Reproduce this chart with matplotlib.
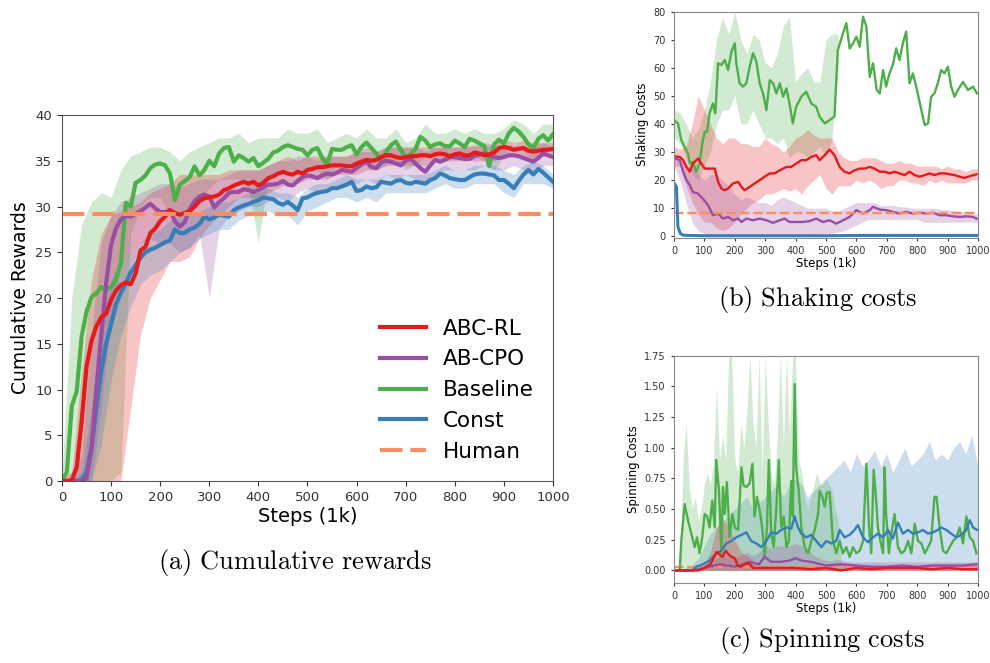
import numpy as np
import matplotlib
matplotlib.use("Agg")
import matplotlib.pyplot as plt

plt.rcParams['mathtext.fontset'] = 'cm'

# ---- colours (Set1-like) ----
C_ABC = '#e41a1c'
C_CPO = '#984ea3'
C_BASE = '#4daf4a'
C_CONST = '#377eb8'
C_HUMAN = '#fc8d62'

# ---- (a) cumulative rewards, one value every 10k steps ----
reward_steps = np.arange(0, 1001, 10)
reward_abc_rl = [
    0, 0, 0.1, 1.5, 6.5, 12.5, 15.3, 16.9, 17.9, 18.3,
    19.8, 20.8, 21.4, 21.7, 21.5, 22.7, 25.2, 25.6, 27.1, 27.6,
    28.4, 28.9, 29.6, 29.3, 29.1, 29.3, 29.5, 30.0, 30.6, 30.9,
    31.0, 31.1, 31.3, 31.8, 32.0, 32.3, 32.5, 32.7, 32.5, 32.7,
    32.3, 32.6, 33.1, 33.3, 33.6, 33.8, 33.6, 33.5, 33.8, 33.6,
    34.0, 34.1, 34.3, 34.3, 34.4, 34.5, 34.5, 34.5, 34.4, 34.4,
    34.7, 34.9, 35.1, 35.0, 35.1, 35.4, 35.6, 35.6, 35.4, 35.3,
    35.4, 35.5, 35.5, 35.6, 35.6, 35.5, 35.7, 35.8, 35.7, 35.5,
    35.7, 35.8, 35.6, 35.6, 35.9, 35.8, 35.6, 35.7, 35.9, 36.4,
    36.5, 36.4, 36.2, 36.3, 36.4, 36.1, 36.0, 36.1, 36.2, 36.2,
    36.3]
reward_ab_cpo = [
    0, 0, 0, 0, 0, 0.3, 3.5, 10.0, 16.0, 21.6,
    25.8, 27.6, 28.6, 29.0, 28.9, 29.2, 29.5, 29.9, 30.3, 29.8,
    29.4, 29.4, 29.6, 28.4, 27.8, 28.3, 29.7, 30.6, 31.1, 31.3,
    31.1, 29.9, 30.5, 30.9, 31.5, 31.6, 31.6, 31.9, 31.8, 31.6,
    31.8, 32.1, 32.4, 32.4, 32.5, 32.8, 32.4, 32.3, 32.8, 33.2,
    33.4, 33.3, 33.1, 33.4, 33.6, 33.5, 33.7, 34.0, 33.9, 33.8,
    34.2, 34.6, 34.9, 34.3, 34.2, 34.8, 35.0, 34.9, 34.7, 34.5,
    35.0, 35.2, 34.7, 34.2, 33.8, 34.5, 35.1, 34.9, 35.1, 35.4,
    35.4, 35.3, 35.2, 35.2, 35.5, 35.7, 35.8, 35.6, 35.4, 35.3,
    35.4, 35.6, 35.6, 35.5, 35.3, 35.1, 34.9, 35.3, 35.8, 35.6,
    35.4]
reward_baseline = [
    0, 1.0, 8.2, 9.8, 15.8, 18.5, 20.1, 20.5, 21.2, 20.9,
    21.2, 22.0, 23.8, 30.4, 30.0, 32.6, 32.9, 33.4, 34.2, 34.6,
    34.7, 34.5, 33.6, 30.7, 32.4, 32.8, 33.2, 34.4, 33.4, 34.0,
    35.0, 34.4, 35.8, 36.4, 36.5, 34.9, 35.6, 35.3, 34.9, 35.3,
    34.4, 34.8, 35.2, 35.9, 36.1, 36.5, 36.7, 36.5, 36.3, 36.2,
    35.6, 36.2, 36.4, 35.3, 34.6, 36.3, 36.2, 36.2, 36.5, 36.7,
    35.7, 36.5, 37.0, 36.4, 35.8, 34.8, 36.0, 36.7, 37.1, 36.2,
    35.3, 35.7, 36.3, 37.6, 37.2, 36.5, 36.8, 36.9, 36.6, 36.6,
    37.2, 36.9, 36.5, 37.4, 37.2, 36.9, 36.6, 34.4, 36.8, 37.3,
    36.9, 38.0, 38.6, 38.2, 37.6, 36.8, 36.4, 37.4, 37.8, 37.2,
    37.9]
reward_const = [
    0, 0, 0, 0, 0.1, 1.0, 3.6, 7.9, 12.0, 15.0,
    17.1, 19.3, 20.6, 21.6, 22.8, 23.6, 24.4, 25.0, 25.3, 25.5,
    25.8, 26.1, 26.3, 27.5, 27.1, 27.1, 27.5, 27.7, 28.1, 28.9,
    28.6, 28.8, 29.1, 29.0, 28.9, 29.6, 29.9, 30.1, 30.3, 30.5,
    30.7, 31.0, 30.9, 30.8, 30.4, 30.2, 30.5, 30.1, 29.6, 30.9,
    31.0, 31.3, 31.5, 31.6, 31.7, 32.0, 32.0, 32.2, 32.4, 32.7,
    31.7, 31.8, 32.2, 32.0, 32.1, 32.7, 32.6, 32.5, 32.8, 32.9,
    32.6, 32.5, 32.7, 32.6, 32.5, 32.9, 33.1, 33.6, 33.4, 33.1,
    33.0, 32.9, 32.9, 33.2, 33.5, 33.6, 33.6, 33.5, 33.4, 32.9,
    32.9, 32.5, 32.0, 32.8, 33.5, 34.0, 33.5, 34.1, 33.7, 33.2,
    32.7]
reward_human = 29.2

# shaded bands, one pair every 20k steps
band_steps = np.arange(0, 1001, 20)
reward_abc_rl_lo = [
    0, 0, 0, 0, 0, 0, 0, 8, 16, 20,
    22, 24, 24, 24.5, 26.5, 28, 29, 30, 31, 31,
    31, 31.5, 32, 32.5, 32.5, 33, 33, 33, 33.5, 33.5,
    33.5, 34, 34, 34.5, 34.5, 34.5, 34.5, 34.5, 35, 35,
    35, 35, 35, 35, 35, 35.5, 35.5, 35.5, 35, 35.5,
    35.5]
reward_abc_rl_hi = [
    0.5, 1, 12, 22, 27, 29, 29.5, 30, 30.5, 31.5,
    32, 32.5, 33.5, 33.5, 33.5, 33.5, 33.5, 34, 34, 34,
    34, 34.5, 35, 35.5, 35, 35.5, 35.5, 35.5, 35.5, 35.5,
    36, 36, 36, 36.5, 36.5, 36.5, 36.5, 36.5, 36.5, 36.5,
    36.5, 36.5, 36.8, 36.5, 36.8, 37.3, 37, 37.2, 37, 37,
    37]
reward_ab_cpo_lo = [
    0, 0, 0, 0, 8, 18, 24, 25, 26, 26.5,
    26, 26, 25, 25.5, 27, 20, 27.5, 29, 29.5, 30,
    30, 30.5, 31, 30.5, 31.5, 32, 31.5, 32, 32, 32.5,
    32.5, 33, 32.5, 33.5, 33, 33.5, 33, 32.5, 33.5, 34,
    34, 34, 34, 34.5, 34, 34, 34.5, 34, 33.5, 34.5,
    34.5]
reward_ab_cpo_hi = [
    0, 0.5, 3, 16, 26, 29, 30.5, 31, 31.5, 32,
    32.5, 32.5, 32, 32.5, 33, 33, 33, 33.5, 34, 34,
    34, 34.5, 35, 35, 35.5, 35.5, 35, 35.5, 35.5, 35.5,
    36, 36.5, 36, 36.5, 36.5, 36.5, 36.5, 36, 36.5, 36.5,
    36.5, 36.5, 36.5, 37, 36.8, 36.5, 36.8, 36.5, 36.5, 37,
    36.5]
reward_baseline_lo = [
    0, 0, 0, 0, 0, 0, 1, 27, 30, 31,
    31, 29, 29, 30, 31, 32, 33, 33, 33, 32,
    26, 33, 34, 34, 34, 34, 34, 33, 34.5, 34.5,
    34, 35, 34, 34.5, 35, 34, 34.5, 35.5, 35.5, 35,
    35.5, 35, 35.5, 35, 34, 35.5, 37, 36, 35, 36,
    36.5]
reward_baseline_hi = [
    0.5, 20, 28, 30.5, 31.5, 31, 34, 35.5, 36, 36.5,
    36.5, 36, 35, 36, 36.5, 37, 37.5, 37.5, 38, 37,
    37.5, 37.5, 37.5, 38.5, 38, 38, 38.5, 37, 37.5, 38,
    37.5, 38.5, 37.5, 37.5, 38.5, 37, 37.5, 39, 38, 38,
    38.5, 38, 38.5, 38, 38, 38.5, 39.5, 39, 38, 39,
    39]
reward_const_lo = [
    0, 0, 0, 0, 4, 11, 16, 19, 21.5, 22.5,
    23, 24, 25, 25.5, 26.5, 27, 27.5, 27.5, 28.5, 29,
    29, 29.5, 29, 29, 28, 29.5, 30, 30.5, 31, 31,
    30.5, 31, 30.5, 31.5, 31.5, 31.5, 31.5, 31.5, 32, 32.5,
    32, 32, 32.5, 32.5, 32.5, 31.5, 31, 32.5, 32.5, 32.5,
    32]
reward_const_hi = [
    0.2, 0.3, 1, 8, 17, 22, 24, 25, 26, 27,
    27.5, 28.5, 29, 29, 29.5, 30, 30.5, 30.5, 31, 31.5,
    31.5, 32, 31.5, 31.5, 31, 32, 32.5, 32.5, 33, 33.5,
    33, 33, 33, 33.5, 33.5, 33.5, 33.5, 33.5, 34, 34.5,
    34, 34, 34.5, 34.5, 34.5, 34, 33.5, 34.5, 35, 34.5,
    33.5]

# ---- (b) shaking costs ----
shake_abc_rl_steps = [0, 19, 30, 41, 52, 62, 79, 90, 101, 117,
                      134, 145, 156, 167, 178, 194, 211, 222, 232, 249,
                      265, 282, 298, 315, 331, 348, 370, 386, 402, 419,
                      435, 452, 468, 479, 496, 512, 528, 545, 561, 578,
                      594, 611, 627, 644, 660, 677, 693, 709, 726, 742,
                      759, 775, 792, 808, 825, 841, 857, 874, 890, 907,
                      923, 940, 956, 973, 995]
shake_abc_rl = [28.3, 28.3, 27.1, 24.7, 23.0, 25.9, 27.7, 25.9, 24.1, 24.1,
                24.1, 19.4, 17.0, 16.4, 17.0, 18.8, 19.4, 17.6, 16.4, 17.6,
                18.8, 20.0, 21.2, 22.4, 22.4, 23.5, 24.7, 24.7, 25.9, 27.1,
                27.1, 28.3, 28.9, 27.1, 28.9, 30.9, 28.9, 24.7, 23.0, 22.4,
                23.5, 24.1, 24.1, 24.7, 24.1, 23.0, 23.0, 22.4, 23.0, 22.4,
                21.8, 23.0, 21.8, 21.2, 21.8, 22.4, 21.8, 22.4, 22.4, 22.1,
                21.8, 21.2, 20.8, 21.4, 22.1]
shake_ab_cpo_steps = [0, 19, 30, 41, 52, 62, 79, 95, 112, 128,
                      145, 161, 178, 194, 211, 222, 238, 260, 282, 304,
                      326, 348, 364, 380, 402, 424, 446, 468, 490, 512,
                      534, 556, 578, 600, 622, 644, 655, 677, 698, 720,
                      742, 764, 786, 808, 830, 852, 874, 896, 918, 940,
                      962, 984, 995]
shake_ab_cpo = [28.0, 27.1, 23.0, 20.0, 18.2, 15.8, 15.2, 13.4, 11.1, 7.5,
                8.1, 6.3, 6.9, 5.7, 6.3, 5.1, 6.3, 5.7, 6.3, 5.7,
                4.8, 5.7, 6.3, 5.1, 5.1, 5.1, 5.4, 6.3, 5.1, 5.7,
                4.5, 5.7, 6.9, 9.3, 8.1, 9.3, 10.5, 9.5, 9.3, 8.7,
                8.1, 8.7, 8.1, 8.4, 8.1, 8.4, 7.5, 7.5, 7.1, 6.9,
                7.1, 6.9, 6.3]
shake_baseline_steps = [0, 13, 24, 35, 46, 52, 62, 73, 84, 93,
                        101, 109, 117, 128, 136, 145, 156, 167, 178, 189,
                        200, 205, 216, 227, 238, 249, 260, 271, 282, 293,
                        304, 315, 326, 337, 348, 359, 370, 380, 391, 402,
                        419, 435, 452, 468, 479, 496, 512, 528, 539, 556,
                        567, 578, 589, 600, 611, 622, 633, 644, 655, 667,
                        677, 688, 698, 709, 720, 731, 742, 753, 764, 775,
                        786, 797, 814, 825, 836, 846, 857, 868, 879, 890,
                        901, 912, 923, 934, 951, 967, 984, 997]
shake_baseline = [41.4, 40.2, 34.2, 31.9, 29.5, 25.9, 26.5, 23.0, 25.9, 33.0,
                  37.2, 37.2, 43.8, 47.3, 43.8, 61.6, 61.0, 62.8, 59.2, 65.8,
                  68.7, 61.6, 54.5, 53.3, 54.5, 60.4, 65.2, 62.2, 54.5, 50.9,
                  44.9, 55.6, 54.5, 50.9, 54.5, 49.7, 52.7, 47.3, 40.2, 46.1,
                  49.7, 51.5, 47.3, 46.1, 42.6, 40.2, 41.4, 42.6, 66.3, 72.3,
                  75.9, 66.9, 68.7, 71.1, 67.5, 78.2, 74.7, 56.8, 61.6, 52.1,
                  50.9, 59.2, 53.3, 58.0, 61.0, 66.9, 62.8, 68.7, 72.9, 54.5,
                  58.0, 53.3, 44.9, 39.6, 40.2, 49.7, 50.9, 54.5, 59.2, 58.0,
                  60.4, 53.3, 49.7, 52.1, 55.0, 52.1, 53.3, 50.9]
shake_const_steps = [0, 8, 13, 21, 30, 50, 100, 200, 300, 400, 500, 600, 700, 800, 900, 995]
shake_const = [19.0, 17.6, 3.3, 1.0, 0.4, 0.3, 0.2, 0.2, 0.2, 0.2, 0.2, 0.3, 0.3, 0.3, 0.3, 0.3]
shake_human = 8.4

shake_abc_rl_lo = [25, 25, 18, 12, 8, 5, 5, 3, 2, 3,
                   5, 8, 10, 12, 13, 15, 15, 16, 17, 16,
                   17, 15, 18, 20, 22, 17, 15, 18, 18, 18,
                   20, 19, 20, 19, 17, 18, 18, 20, 20, 19,
                   19, 18, 20, 19, 20, 19, 19, 19, 19, 20,
                   20]
shake_abc_rl_hi = [32, 31, 32, 40, 50, 45, 40, 35, 33, 35,
                   35, 33, 33, 32, 32, 35, 33, 32, 30, 32,
                   35, 36, 38, 36, 35, 35, 35, 30, 28, 27,
                   27, 28, 28, 28, 27, 26, 26, 27, 26, 26,
                   25, 25, 25, 25, 24, 25, 24, 24, 23, 24,
                   24]
shake_ab_cpo_lo = [25, 20, 12, 5, 2, 1, 0.5, 0.5, 0.5, 0.5,
                   0.5, 0.5, 0.5, 0.5, 0.5, 0.5, 0.5, 0.5, 0.5, 0.5,
                   0.5, 0.5, 0.5, 1, 1, 1, 1, 1.5, 2, 3,
                   4, 5, 6, 6, 6, 6, 6, 6, 6, 6,
                   6, 5, 5, 5, 5, 5, 5, 5, 5, 5,
                   5]
shake_ab_cpo_hi = [30, 28, 25, 25, 22, 20, 22, 22, 20, 18,
                   15, 13, 14, 13, 12, 12, 11, 13, 14, 13,
                   12, 11, 10, 10, 10, 10, 9, 9, 10, 11,
                   12, 12, 12, 12, 11, 11, 11, 10.5, 10.5, 10,
                   10, 10, 10, 10, 9.5, 9.5, 9, 9, 8.5, 8,
                   8]
shake_band_base_steps = np.arange(0, 541, 20)
shake_baseline_lo = [35, 33, 28, 22, 20, 25, 30, 40, 45, 45,
                     50, 40, 40, 45, 40, 35, 35, 33, 35, 28,
                     30, 30, 28, 30, 32, 28, 35, 60]
shake_baseline_hi = [45, 44, 40, 35, 38, 45, 55, 70, 78, 72,
                     80, 70, 65, 72, 70, 62, 60, 65, 75, 78,
                     55, 58, 60, 55, 55, 70, 72, 72]

# ---- (c) spinning costs ----
spin_abc_rl_steps = [0, 80, 100, 120, 140, 150, 160, 170, 180, 190,
                     200, 210, 220, 240, 250, 260, 300, 350, 400, 450,
                     500, 550, 600, 650, 700, 750, 800, 850, 900, 950, 995]
spin_abc_rl = [0.0, 0.0, 0.02, 0.05, 0.15, 0.13, 0.11, 0.16, 0.13, 0.11,
               0.10, 0.04, 0.03, 0.06, 0.05, 0.02, 0.02, 0.02, 0.02, 0.01,
               0.02, 0.00, 0.02, 0.01, 0.02, 0.02, 0.02, 0.01, 0.02, 0.01, 0.01]
spin_ab_cpo_steps = [0, 60, 100, 150, 200, 250, 280, 298, 320, 350,
                     380, 400, 420, 450, 500, 550, 600, 650, 700, 750,
                     800, 850, 900, 950, 995]
spin_ab_cpo = [0.0, 0.0, 0.02, 0.05, 0.03, 0.07, 0.05, 0.11, 0.07, 0.07,
               0.08, 0.10, 0.08, 0.07, 0.04, 0.05, 0.04, 0.03, 0.03, 0.04,
               0.03, 0.04, 0.04, 0.04, 0.05]
spin_baseline_steps = [0, 19, 24, 35, 46, 57, 68, 76, 84, 93,
                       101, 109, 117, 126, 134, 139, 148, 156, 161, 167,
                       174, 183, 192, 200, 211, 222, 229, 238, 249, 258,
                       265, 273, 282, 291, 298, 306, 312, 320, 328, 337,
                       345, 353, 361, 370, 378, 386, 391, 397, 402, 411,
                       419, 430, 441, 452, 463, 474, 479, 488, 496, 503,
                       512, 523, 534, 545, 556, 567, 578, 589, 600, 611,
                       622, 633, 642, 649, 657, 663, 671, 679, 688, 693,
                       698, 707, 715, 726, 737, 748, 759, 770, 781, 792,
                       803, 814, 825, 836, 846, 857, 864, 874, 885, 896,
                       907, 918, 929, 940, 951, 962, 973, 984, 995]
spin_baseline = [0.0, 0.0, 0.24, 0.54, 0.41, 0.30, 0.19, 0.27, 0.14, 0.27,
                 0.46, 0.44, 0.35, 0.57, 0.35, 0.90, 0.65, 0.14, 0.68, 0.46,
                 0.72, 0.27, 0.46, 0.35, 0.33, 0.84, 0.69, 0.68, 0.71, 0.87,
                 0.44, 0.60, 0.49, 0.33, 0.11, 0.35, 0.90, 0.30, 0.19, 0.52,
                 0.90, 0.35, 0.44, 0.19, 0.24, 0.73, 0.44, 1.52, 0.84, 0.63,
                 0.35, 0.19, 0.14, 0.24, 0.33, 0.46, 0.65, 0.60, 0.52, 0.63,
                 0.64, 0.24, 0.14, 0.24, 0.14, 0.19, 0.11, 0.19, 0.14, 0.16,
                 0.24, 0.87, 0.35, 0.14, 0.82, 0.65, 0.35, 0.24, 0.14, 0.84,
                 0.46, 0.14, 0.30, 0.46, 0.19, 0.14, 0.16, 0.24, 0.14, 0.38,
                 0.24, 0.22, 0.14, 0.19, 0.24, 0.60, 0.60, 0.35, 0.16, 0.14,
                 0.19, 0.24, 0.27, 0.35, 0.22, 0.44, 0.27, 0.24, 0.14]
spin_const_steps = [0, 60, 73, 95, 117, 139, 156, 172, 189, 205,
                    222, 238, 254, 271, 287, 304, 320, 337, 353, 370,
                    386, 397, 408, 419, 435, 452, 468, 485, 501, 518,
                    534, 545, 561, 578, 594, 605, 622, 638, 655, 671,
                    688, 704, 720, 737, 753, 770, 786, 803, 819, 836,
                    852, 868, 879, 896, 912, 929, 945, 962, 973, 984, 997]
spin_const = [0.0, 0.0, 0.03, 0.05, 0.08, 0.14, 0.16, 0.22, 0.24, 0.27,
              0.29, 0.31, 0.24, 0.22, 0.19, 0.24, 0.31, 0.30, 0.33, 0.35,
              0.34, 0.44, 0.35, 0.30, 0.27, 0.29, 0.24, 0.19, 0.24, 0.22,
              0.24, 0.33, 0.27, 0.29, 0.33, 0.37, 0.27, 0.23, 0.27, 0.30,
              0.27, 0.33, 0.26, 0.39, 0.30, 0.33, 0.30, 0.31, 0.33, 0.30,
              0.31, 0.33, 0.35, 0.33, 0.30, 0.27, 0.29, 0.33, 0.41, 0.35, 0.33]
spin_human = 0.03

spin_band_base_steps = np.arange(0, 551, 10)
spin_baseline_hi = [0.0, 0.0, 0.1, 0.9, 1.2, 0.7, 0.5, 0.6, 0.4, 0.5,
                    0.7, 0.8, 0.7, 0.9, 1.5, 0.9, 1.1, 0.9, 1.75, 1.75,
                    0.9, 0.8, 1.2, 1.0, 1.3, 1.75, 1.2, 1.0, 1.75, 0.8,
                    1.75, 1.2, 0.8, 0.7, 1.1, 1.75, 1.0, 1.75, 1.1, 1.75,
                    1.75, 0.9, 0.8, 0.6, 0.5, 0.6, 0.7, 0.8, 0.7, 0.7,
                    0.75, 0.7, 0.65, 0.5, 0.4, 0.2]
spin_const_hi = [0, 0, 0.02, 0.05, 0.1, 0.2, 0.3, 0.35, 0.4, 0.45,
                 0.5, 0.55, 0.6, 0.5, 0.55, 0.6, 0.65, 0.7, 0.6, 0.7,
                 0.75, 0.7, 0.6, 0.65, 0.7, 0.75, 0.8, 0.85, 0.9, 0.8,
                 0.95, 0.85, 0.9, 0.98, 0.85, 0.95, 0.8, 0.9, 1.0, 0.85,
                 0.9, 0.95, 1.05, 0.9, 0.95, 0.9, 1.0, 1.05, 0.95, 1.1,
                 0.85]
spin_ab_cpo_hi = [0, 0, 0, 0.01, 0.03, 0.05, 0.08, 0.1, 0.12, 0.12,
                  0.1, 0.12, 0.15, 0.12, 0.15, 0.2, 0.18, 0.2, 0.2, 0.2,
                  0.22, 0.2, 0.18, 0.12, 0.1, 0.08, 0.08, 0.09, 0.08, 0.07,
                  0.07, 0.07, 0.07, 0.07, 0.07, 0.07, 0.07, 0.07, 0.07, 0.07,
                  0.07, 0.07, 0.07, 0.07, 0.07, 0.07, 0.07, 0.07, 0.07, 0.07,
                  0.07]
spin_abc_rl_hi = [0, 0, 0, 0, 0.02, 0.05, 0.15, 0.35, 0.42, 0.35,
                  0.25, 0.15, 0.12, 0.08, 0.05, 0.04, 0.04, 0.04, 0.04, 0.04,
                  0.04, 0.04, 0.04, 0.04, 0.04, 0.04, 0.04, 0.04, 0.04, 0.04,
                  0.04, 0.04, 0.04, 0.04, 0.04, 0.04, 0.04, 0.04, 0.04, 0.04,
                  0.04, 0.04, 0.04, 0.04, 0.04, 0.04, 0.04, 0.04, 0.04, 0.04,
                  0.04]


def style_axes(ax, spine_color, tick_size):
    for sp in ax.spines.values():
        sp.set_color(spine_color)
    ax.tick_params(colors='#333333', labelsize=tick_size, length=3.5, width=0.8)


fig = plt.figure(figsize=(9.9, 6.63), dpi=100)

# ================= (a) =================
ax = fig.add_axes([0.0626, 0.2745, 0.496, 0.552])
band_alpha = 0.25
ax.fill_between(band_steps, reward_baseline_lo, reward_baseline_hi, color=C_BASE, alpha=band_alpha, lw=0)
ax.fill_between(band_steps, reward_abc_rl_lo, reward_abc_rl_hi, color=C_ABC, alpha=band_alpha, lw=0)
ax.fill_between(band_steps, reward_ab_cpo_lo, reward_ab_cpo_hi, color=C_CPO, alpha=band_alpha, lw=0)
ax.fill_between(band_steps, reward_const_lo, reward_const_hi, color=C_CONST, alpha=band_alpha, lw=0)
lw_a = 3.0
ax.plot(reward_steps, reward_baseline, color=C_BASE, lw=lw_a, label='Baseline')
ax.plot(reward_steps, reward_const, color=C_CONST, lw=lw_a, label='Const')
ax.plot(reward_steps, reward_ab_cpo, color=C_CPO, lw=lw_a, label='AB-CPO')
ax.plot(reward_steps, reward_abc_rl, color=C_ABC, lw=lw_a, label='ABC-RL')
ax.plot([0, 1000], [reward_human, reward_human], color=C_HUMAN, lw=lw_a,
        dashes=(5.4, 1.9), label='Human')
ax.set_xlim(0, 1000)
ax.set_ylim(0, 40)
ax.set_xticks(np.arange(0, 1001, 100))
ax.set_yticks(np.arange(0, 41, 5))
ax.set_xlabel('Steps (1k)', fontsize=14, labelpad=2)
ax.set_ylabel('Cumulative Rewards', fontsize=13.5, labelpad=4)
style_axes(ax, '#555555', 9.5)
h, l = ax.get_legend_handles_labels()
order = [l.index(n) for n in ['ABC-RL', 'AB-CPO', 'Baseline', 'Const', 'Human']]
ax.legend([h[i] for i in order], [l[i] for i in order], loc='lower right',
          frameon=False, fontsize=15.5, handlelength=2.1, labelspacing=0.5)

# ================= (b) =================
bx = fig.add_axes([0.6808, 0.6415, 0.307, 0.3409])
band_alpha_r = 0.25
bx.fill_between(shake_band_base_steps, shake_baseline_lo, shake_baseline_hi, color=C_BASE, alpha=band_alpha_r, lw=0)
bx.fill_between(band_steps, shake_abc_rl_lo, shake_abc_rl_hi, color=C_ABC, alpha=band_alpha_r, lw=0)
bx.fill_between(band_steps, shake_ab_cpo_lo, shake_ab_cpo_hi, color=C_CPO, alpha=band_alpha_r, lw=0)
lw_r = 1.7
bx.plot(shake_baseline_steps, shake_baseline, color=C_BASE, lw=lw_r)
bx.plot(shake_abc_rl_steps, shake_abc_rl, color=C_ABC, lw=lw_r)
bx.plot(shake_ab_cpo_steps, shake_ab_cpo, color=C_CPO, lw=lw_r)
bx.plot([0, 995], [shake_human, shake_human], color=C_HUMAN, lw=lw_r, dashes=(4, 1.6))
bx.plot(shake_const_steps, shake_const, color=C_CONST, lw=2.2)
bx.set_xlim(0, 1000)
bx.set_ylim(-0.5, 80)
bx.set_xticks(np.arange(0, 1001, 100))
bx.set_yticks(np.arange(0, 81, 10))
bx.set_xlabel('Steps (1k)', fontsize=8.5, labelpad=1)
bx.set_ylabel('Shaking Costs', fontsize=8.5, labelpad=3)
style_axes(bx, '#8a8a8a', 7)
bx.tick_params(length=2.5)

# ================= (c) =================
cx = fig.add_axes([0.6808, 0.1211, 0.307, 0.3424])
cx.fill_between(band_steps, 0, spin_const_hi, color=C_CONST, alpha=band_alpha_r, lw=0)
cx.fill_between(spin_band_base_steps, 0, spin_baseline_hi, color=C_BASE, alpha=band_alpha_r, lw=0)
cx.fill_between(band_steps, 0, spin_ab_cpo_hi, color=C_CPO, alpha=band_alpha_r, lw=0)
cx.fill_between(band_steps, 0, spin_abc_rl_hi, color=C_ABC, alpha=band_alpha_r, lw=0)
cx.plot([0, 995], [spin_human, spin_human], color=C_HUMAN, lw=lw_r, dashes=(4, 1.6))
cx.plot(spin_baseline_steps, spin_baseline, color=C_BASE, lw=lw_r)
cx.plot(spin_const_steps, spin_const, color=C_CONST, lw=lw_r)
cx.plot(spin_ab_cpo_steps, spin_ab_cpo, color=C_CPO, lw=lw_r)
cx.plot(spin_abc_rl_steps, spin_abc_rl, color=C_ABC, lw=lw_r)
cx.set_xlim(0, 1000)
cx.set_ylim(-0.1, 1.75)
cx.set_xticks(np.arange(0, 1001, 100))
cx.set_yticks(np.arange(0, 1.76, 0.25))
cx.set_yticklabels(['%.2f' % v for v in np.arange(0, 1.76, 0.25)])
cx.set_xlabel('Steps (1k)', fontsize=8.5, labelpad=1)
cx.set_ylabel('Spinning Costs', fontsize=8.5, labelpad=3)
style_axes(cx, '#8a8a8a', 7)
cx.tick_params(length=2.5)

# ---- captions ----
fig.text(295 / 990, 1 - 563 / 663, r'$\mathrm{(a)\ Cumulative\ rewards}$',
         ha='center', va='center', fontsize=19)
fig.text(818 / 990, 1 - 300 / 663, r'$\mathrm{(b)\ Shaking\ costs}$',
         ha='center', va='center', fontsize=19)
fig.text(822 / 990, 1 - 641 / 663, r'$\mathrm{(c)\ Spinning\ costs}$',
         ha='center', va='center', fontsize=19)

fig.savefig('out.png', dpi=100)
